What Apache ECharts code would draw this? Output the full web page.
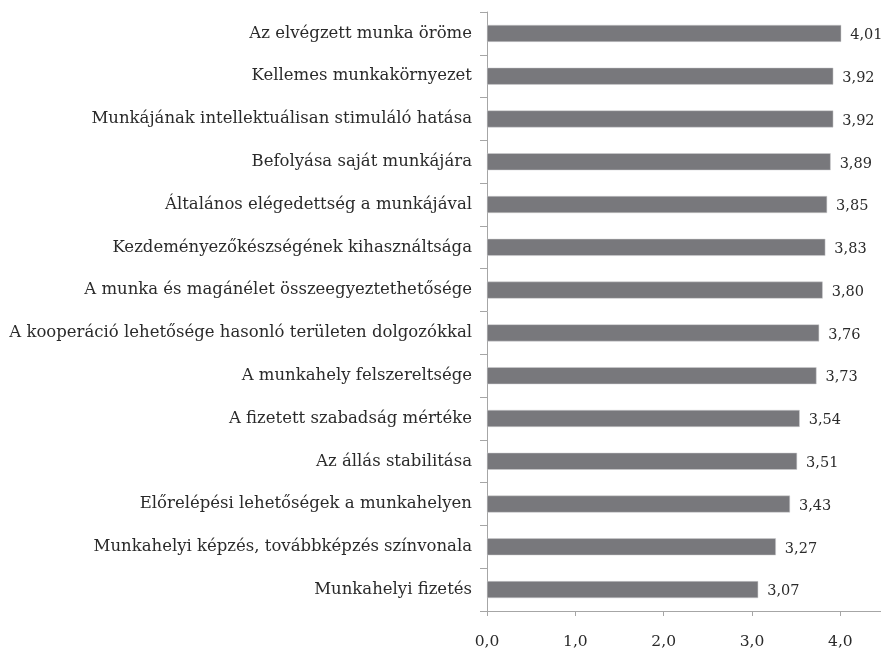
<!DOCTYPE html>
<html>
<head>
<meta charset="utf-8">
<script src="https://cdn.jsdelivr.net/npm/echarts@6/dist/echarts.min.js"></script>
<style>
  html, body { margin: 0; padding: 0; background: #fff; }
  #chart { width: 881px; height: 651px; }
</style>
</head>
<body>
<div id="chart"></div>
<script>
// categories from top to bottom
var categories = [
    'Az elvégzett munka öröme',
    'Kellemes munkakörnyezet',
    'Munkájának intellektuálisan stimuláló hatása',
    'Befolyása saját munkájára',
    'Általános elégedettség a munkájával',
    'Kezdeményezőkészségének kihasználtsága',
    'A munka és magánélet összeegyeztethetősége',
    'A kooperáció lehetősége hasonló területen dolgozókkal',
    'A munkahely felszereltsége',
    'A fizetett szabadság mértéke',
    'Az állás stabilitása',
    'Előrelépési lehetőségek a munkahelyen',
    'Munkahelyi képzés, továbbképzés színvonala',
    'Munkahelyi fizetés'
];
var values = [4.01, 3.92, 3.92, 3.89, 3.85, 3.83, 3.80, 3.76, 3.73, 3.54, 3.51, 3.43, 3.27, 3.07];
var tickValues = [0, 1, 2, 3, 4];

var fontFamily = 'DejaVu Serif';
var textColor = '#2a2a2a';
var axisColor = '#a6a6a6';

// hungarian decimal comma
function fmt(v, digits) {
    return v.toFixed(digits).replace('.', ',');
}

var chart = echarts.init(document.getElementById('chart'));

var option = {
    animation: false,
    grid: { left: 487, right: 0, top: 12, bottom: 40, containLabel: false },
    xAxis: {
        type: 'value',
        min: 0,
        max: 4.46,
        interval: 1,
        splitLine: { show: false },
        axisLine: { show: true, lineStyle: { color: axisColor, width: 1 } },
        axisTick: { show: true, length: 5, customValues: tickValues, lineStyle: { color: axisColor } },
        axisLabel: {
            customValues: tickValues,
            margin: 23,
            fontFamily: fontFamily,
            fontSize: 15.5,
            color: textColor,
            formatter: function (v) { return fmt(v, 1); }
        }
    },
    yAxis: {
        type: 'category',
        data: categories,
        inverse: true,
        axisLine: { show: true, lineStyle: { color: axisColor, width: 1 } },
        axisTick: { show: true, length: 7, lineStyle: { color: axisColor } },
        axisLabel: {
            margin: 15,
            fontFamily: fontFamily,
            fontSize: 16.5,
            color: textColor
        }
    },
    series: [{
        type: 'bar',
        data: values,
        barWidth: 17,
        itemStyle: { color: '#78787c', borderColor: '#cfcfd1', borderWidth: 0.5 },
        label: {
            show: true,
            position: 'right',
            distance: 9,
            offset: [0, 2],
            fontFamily: fontFamily,
            fontSize: 14.5,
            color: textColor,
            formatter: function (p) { return fmt(p.value, 2); }
        }
    }]
};

chart.setOption(option);
</script>
</body>
</html>
